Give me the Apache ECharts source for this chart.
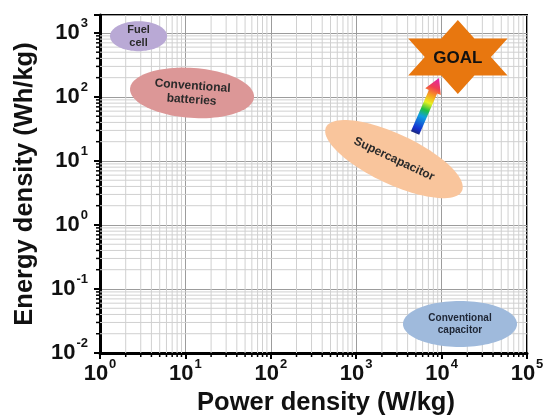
<!DOCTYPE html>
<html><head><meta charset="utf-8">
<script src="https://cdn.jsdelivr.net/npm/echarts@6/dist/echarts.min.js"></script>
<style>html,body{margin:0;padding:0;background:#fff}#c{width:546px;height:415px}</style>
</head><body><div id="c"></div>
<script>
// ---------- data ----------
const xRange = [1, 100000];          // power density (W/kg)
const yRange = [0.01, 1905];         // energy density (Wh/kg)
const xDecades = [1, 10, 100, 1000, 10000];
const yDecades = [0.01, 0.1, 1, 10, 100, 1000];
const minorSteps = [2, 3, 4, 5, 6, 7, 8, 9];

// regions: major-axis end points in data units
const regionNames = ['Fuel\ncell', 'Conventional\nbatteries', 'Supercapacitor', 'Conventional\ncapacitor'];
const regionStartPower  = [1.31, 2.25, 443, 3530];
const regionStartEnergy = [890, 135, 33.6, 0.0284];
const regionEndPower    = [6.1, 63.6, 17300, 76400];
const regionEndEnergy   = [890, 98.9, 3.4, 0.0284];

const goalLabel = 'GOAL';
const goalPower = 15500;
const goalEnergy = 420;

const arrowStartPower = 4890, arrowStartEnergy = 27.4;
const arrowEndPower = 9330, arrowEndEnergy = 198;

// ---------- styles ----------
const FONT = '"Liberation Sans", Arial, Helvetica, sans-serif';
const regionStyles = [
  { fill: '#B9A9D5', half: 15, fontSize: 11, lineHeight: 13, color: '#2a2a2a' },
  { fill: '#DC9797', half: 25, fontSize: 12, lineHeight: 14, color: '#2a2a2a' },
  { fill: '#F9C59C', half: 25, fontSize: 12, lineHeight: 14, color: '#2a2a2a' },
  { fill: '#9FBADC', half: 23, fontSize: 10, lineHeight: 12, color: '#1e2635' }
];
const starStyle = { fill: '#E8770F', R: 37, sx: 1.55 };

// ---------- build ----------
const xMinor = [];
xDecades.forEach(d => minorSteps.forEach(m => xMinor.push(m * d)));
const yMinor = [];
yDecades.forEach(d => minorSteps.forEach(m => { const v = m * d; if (v < yRange[1]) yMinor.push(v); }));

function decadeLabel(v) {
  const e = Math.log10(v);
  if (Math.abs(e - Math.round(e)) > 1e-6) return '';
  return '{b|10}{s|' + Math.round(e) + '}';
}
const labelRich = {
  b: { fontFamily: FONT, fontWeight: 'bold', fontSize: 22, color: '#111', lineHeight: 32 },
  s: { fontFamily: FONT, fontWeight: 'bold', fontSize: 13, color: '#111', verticalAlign: 'top', lineHeight: 14, padding: [0, 0, 0, 1] }
};

const chart = echarts.init(document.getElementById('c'));

const option = {
  animation: false,
  backgroundColor: '#fff',
  grid: { left: 100, right: 19, top: 15, bottom: 62, containLabel: false, outerBoundsMode: 'none',
          show: true, borderColor: '#000', borderWidth: 2, backgroundColor: 'transparent' },
  xAxis: {
    type: 'log', logBase: 10, min: xRange[0], max: xRange[1], splitNumber: 5,
    axisLine: { show: true, onZero: false, lineStyle: { color: '#000', width: 3 } },
    axisTick: { show: true, inside: false, length: 6, lineStyle: { color: '#000', width: 2 } },
    minorTick: { show: false },
    splitLine: { show: true, lineStyle: { color: '#9c9c9c', width: 1 } },
    axisLabel: { formatter: decadeLabel, margin: 5, rich: labelRich, hideOverlap: false },
    name: 'Power density (W/kg)', nameLocation: 'middle', nameGap: 32,
    nameTextStyle: { fontFamily: FONT, fontWeight: 'bold', fontSize: 25.5, color: '#111', padding: [0, 0, 0, 25] }
  },
  yAxis: {
    type: 'log', logBase: 10, min: yRange[0], max: yRange[1], splitNumber: 5,
    axisLine: { show: true, onZero: false, lineStyle: { color: '#000', width: 3 } },
    axisTick: { show: true, inside: false, length: 6, lineStyle: { color: '#000', width: 2 } },
    minorTick: { show: false },
    splitLine: { show: true, lineStyle: { color: '#9c9c9c', width: 1 } },
    axisLabel: { formatter: decadeLabel, margin: 12, rich: labelRich, hideOverlap: false },
    name: 'Energy density (Wh/kg)', nameLocation: 'middle', nameGap: 62, nameRotate: 90,
    nameTextStyle: { fontFamily: FONT, fontWeight: 'bold', fontSize: 25.5, color: '#111' }
  },
  series: [
    { // minor vertical grid + ticks
      type: 'custom', silent: true, clip: false, z: 1,
      data: xMinor.map(v => [v, 1]),
      renderItem: function (params, api) {
        const v = api.value(0);
        const p1 = api.coord([v, yRange[0]]);
        const p2 = api.coord([v, yRange[1]]);
        return { type: 'group', children: [
          { type: 'line', shape: { x1: p1[0], y1: p1[1], x2: p2[0], y2: p2[1] }, style: { stroke: '#d0d0d0', lineWidth: 1 } },
          { type: 'line', shape: { x1: p1[0], y1: p1[1], x2: p1[0], y2: p1[1] + 4 }, style: { stroke: '#000', lineWidth: 1.5 } }
        ] };
      }
    },
    { // minor horizontal grid + ticks
      type: 'custom', silent: true, clip: false, z: 1,
      data: yMinor.map(v => [1, v]),
      renderItem: function (params, api) {
        const v = api.value(1);
        const p1 = api.coord([xRange[0], v]);
        const p2 = api.coord([xRange[1], v]);
        return { type: 'group', children: [
          { type: 'line', shape: { x1: p1[0], y1: p1[1], x2: p2[0], y2: p2[1] }, style: { stroke: '#d0d0d0', lineWidth: 1 } },
          { type: 'line', shape: { x1: p1[0], y1: p1[1], x2: p1[0] - 4, y2: p1[1] }, style: { stroke: '#000', lineWidth: 1.5 } }
        ] };
      }
    },
    { // regions (ellipses)
      type: 'custom', silent: true, z: 3,
      data: regionNames.map((n, i) => [regionStartPower[i], regionStartEnergy[i], regionEndPower[i], regionEndEnergy[i]]),
      renderItem: function (params, api) {
        const i = params.dataIndex;
        const st = regionStyles[i];
        const a1 = api.coord([api.value(0), api.value(1)]);
        const a2 = api.coord([api.value(2), api.value(3)]);
        const cx = (a1[0] + a2[0]) / 2, cy = (a1[1] + a2[1]) / 2;
        const dx = a2[0] - a1[0], dy = a2[1] - a1[1];
        const a = Math.sqrt(dx * dx + dy * dy) / 2;
        const th = Math.atan2(dy, dx);
        const b = st.half;
        const pts = [];
        for (let k = 0; k < 96; k++) {
          const t = k / 96 * Math.PI * 2;
          const ex = a * Math.cos(t), ey = b * Math.sin(t);
          pts.push([cx + ex * Math.cos(th) - ey * Math.sin(th), cy + ex * Math.sin(th) + ey * Math.cos(th)]);
        }
        return { type: 'group', children: [
          { type: 'polygon', shape: { points: pts }, style: { fill: st.fill } },
          { type: 'text', x: cx, y: cy, rotation: -th,
            style: { text: regionNames[i], fill: st.color, font: 'bold ' + st.fontSize + 'px ' + FONT,
                     lineHeight: st.lineHeight, align: 'center', verticalAlign: 'middle' } }
        ] };
      }
    },
    { // GOAL star
      type: 'custom', silent: true, z: 4,
      data: [[goalPower, goalEnergy]],
      renderItem: function (params, api) {
        const c = api.coord([api.value(0), api.value(1)]);
        const R = starStyle.R, r = R / Math.sqrt(3), sx = starStyle.sx;
        const pts = [];
        for (let k = 0; k < 12; k++) {
          const ang = Math.PI / 2 - k * Math.PI / 6;
          const rad = (k % 2 === 0) ? R : r;
          pts.push([c[0] + rad * Math.cos(ang) * sx, c[1] - rad * Math.sin(ang)]);
        }
        return { type: 'group', children: [
          { type: 'polygon', shape: { points: pts }, style: { fill: starStyle.fill } },
          { type: 'text', x: c[0], y: c[1] + 1, style: { text: goalLabel, fill: '#111', font: 'bold 17px ' + FONT, align: 'center', verticalAlign: 'middle' } }
        ] };
      }
    },
    { // rainbow arrow
      type: 'custom', silent: true, z: 5,
      data: [[arrowStartPower, arrowStartEnergy, arrowEndPower, arrowEndEnergy]],
      renderItem: function (params, api) {
        const p0 = api.coord([api.value(0), api.value(1)]);
        const p1 = api.coord([api.value(2), api.value(3)]);
        const dx = p1[0] - p0[0], dy = p1[1] - p0[1];
        const L = Math.sqrt(dx * dx + dy * dy);
        const ux = dx / L, uy = dy / L, nx = -uy, ny = ux;
        const w = 4.5, hw = 8.5, hl = 15;
        const nk = [p1[0] - ux * hl, p1[1] - uy * hl];
        const pts = [
          [p0[0] + nx * w, p0[1] + ny * w],
          [nk[0] + nx * w, nk[1] + ny * w],
          [nk[0] + nx * hw, nk[1] + ny * hw],
          [p1[0], p1[1]],
          [nk[0] - nx * hw, nk[1] - ny * hw],
          [nk[0] - nx * w, nk[1] - ny * w],
          [p0[0] - nx * w, p0[1] - ny * w]
        ];
        const grad = new echarts.graphic.LinearGradient(p0[0], p0[1], p1[0], p1[1], [
          { offset: 0, color: '#1a2a80' },
          { offset: 0.08, color: '#1530d0' },
          { offset: 0.3, color: '#10a0e0' },
          { offset: 0.42, color: '#20c040' },
          { offset: 0.55, color: '#e8f020' },
          { offset: 0.68, color: '#f8a020' },
          { offset: 0.82, color: '#f04050' },
          { offset: 1, color: '#e020b0' }
        ], true);
        return { type: 'polygon', shape: { points: pts }, style: { fill: grad } };
      }
    }
  ]
};
chart.setOption(option);
</script>
</body></html>
